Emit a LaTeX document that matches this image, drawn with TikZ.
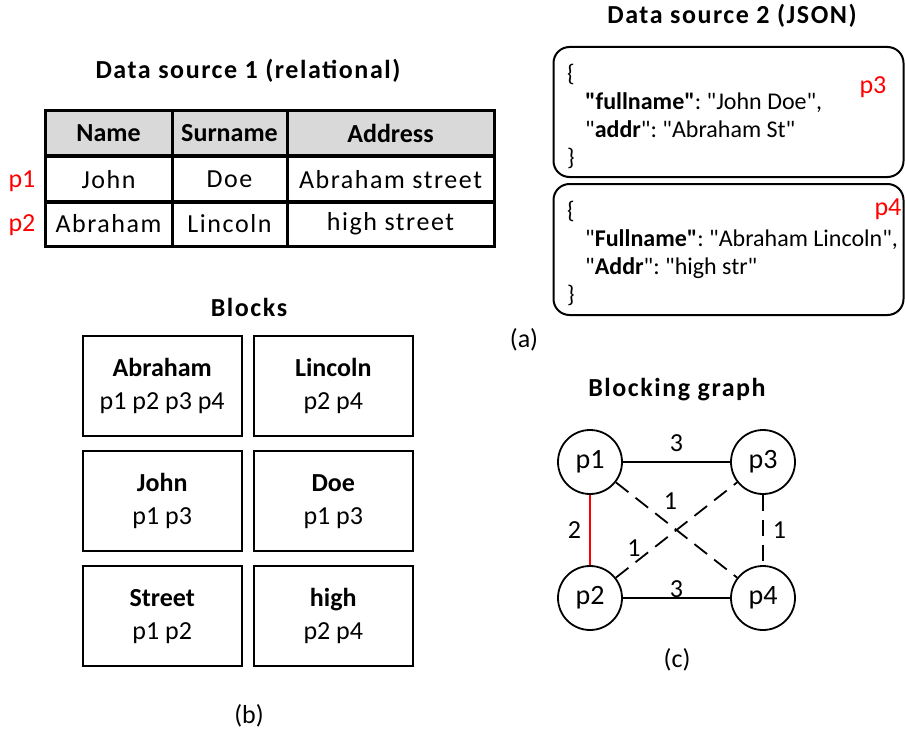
\documentclass[tikz,border=0pt]{standalone}
\usepackage{fontspec}
\setmainfont{Carlito}[Ligatures=TeXOff]
\definecolor{hdr}{HTML}{D9D9D9}
\definecolor{pred}{HTML}{FF0000}
\frenchspacing
\tikzset{
  txt/.style={font=\fontsize{26}{31}\selectfont, inner sep=0pt},
  ttl/.style={font=\fontsize{26}{31}\selectfont\bfseries\addfontfeature{LetterSpace=6}, inner sep=0pt},
  hcell/.style={draw, line width=3pt, fill=hdr, minimum width=#1, minimum height=45pt, inner sep=0pt,
    font=\fontsize{26}{31}\selectfont\bfseries},
  bcell/.style={draw, line width=3pt, minimum width=#1, minimum height=45pt, inner sep=0pt,
    font=\fontsize{26}{31}\selectfont\addfontfeature{LetterSpace=6}},
  plabel/.style={text=pred, font=\fontsize{26}{31}\selectfont, inner sep=0pt},
  blockbox/.style={draw, line width=2pt, minimum width=159pt, minimum height=100pt, inner sep=0pt,
    align=center, font=\fontsize{26}{33}\selectfont},
  jbox/.style={draw, line width=2pt, rounded corners=16pt, minimum width=350pt, minimum height=#1, inner sep=0pt},
  jtext/.style={anchor=west, align=left, inner sep=0pt, font=\fontsize{24}{27.7}\selectfont\frenchspacing},
  gnode/.style={draw, circle, line width=1.8pt, minimum size=64pt, inner sep=0pt, font=\fontsize{28}{31}\selectfont},
  gedge/.style={line width=1.8pt},
  dedge/.style={line width=1.8pt, dash pattern=on 16pt off 9pt},
  elabel/.style={font=\fontsize{26}{31}\selectfont, inner sep=0pt},
}
\begin{document}
\begin{tikzpicture}[x=1pt,y=-1pt]
\useasboundingbox (0,0) rectangle (905,733);

% ---- Data source 1 ----
\node[ttl] (t1) at (248,71) {Data source 1 (relational)};
\node[hcell=127pt] (hname) at (108.5,133.5) {Name};
\node[hcell=115pt] (hsur) at (229.5,133.5) {Surname};
\node[hcell=207pt] (haddr) at (390.5,133.5) {Address};
\node[bcell=127pt] (c11) at (108.5,179.5) {John};
\node[bcell=115pt] (c12) at (229.5,179.5) {Doe};
\node[bcell=207pt] (c13) at (390.5,179.5) {Abraham street};
\node[bcell=127pt] (c21) at (108.5,224) {Abraham};
\node[bcell=115pt] (c22) at (229.5,224) {Lincoln};
\node[bcell=207pt] (c23) at (390.5,224) {high street};
\node[plabel] (lp1) at (22,181) {p1};
\node[plabel] (lp2) at (22,225) {p2};

% ---- Data source 2 ----
\node[ttl] (t2) at (732,16) {Data source 2 (JSON)};
\node[jbox=130pt] (j1) at (728.5,112) {};
\node[jbox=131pt] (j2) at (728.5,249.5) {};
\node[jtext] (j1t) at (567,116.5) {\{\\\hspace*{18pt}\textbf{"fullname"}: "John Doe",\\\hspace*{18pt}"\textbf{addr}": "Abraham St"\\\}};
\node[jtext] (j2t) at (567,253.5) {\{\\\hspace*{18pt}"\textbf{Fullname"}: "Abraham Lincoln",\\\hspace*{18pt}"\textbf{Addr}": "high str"\\\}};
\node[plabel] (lp3) at (873,87) {p3};
\node[plabel] (lp4) at (888,209) {p4};
\node[txt] (capa) at (524,340) {(a)};

% ---- Blocks ----
\node[ttl] (t3) at (249,307) {Blocks};
\node[blockbox] (b1) at (162.2,386.3) {\textbf{Abraham}\\p1 p2 p3 p4};
\node[blockbox] (b2) at (333.3,386.3) {\textbf{Lincoln}\\p2 p4};
\node[blockbox] (b3) at (162.2,501.3) {\textbf{John}\\p1 p3};
\node[blockbox] (b4) at (333.3,501.3) {\textbf{Doe}\\p1 p3};
\node[blockbox] (b5) at (162.2,616.3) {\textbf{Street}\\p1 p2};
\node[blockbox] (b6) at (333.3,616.3) {\textbf{high}\\p2 p4};
\node[txt] (capb) at (249,716) {(b)};

% ---- Blocking graph ----
\node[ttl] (t4) at (677,390) {Blocking graph};
\node[gnode] (p1) at (590,462) {p1};
\node[gnode] (p3) at (763,462) {p3};
\node[gnode] (p2) at (590,598) {p2};
\node[gnode] (p4) at (763,598) {p4};
\draw[gedge] (p1) -- node[elabel, pos=.5, yshift=19pt] {3} (p3);
\draw[gedge] (p2) -- node[elabel, pos=.5, yshift=9pt] {3} (p4);
\draw[gedge, pred] (p1) -- node[elabel, pos=.5, left=8pt, text=black] {2} (p2);
\draw[dedge] (p3) -- node[elabel, pos=.5, right=9pt] {1} (p4);
\draw[dedge] (p1) -- node[elabel, pos=.45, yshift=24pt] {1} (p4);
\draw[dedge] (p2) -- node[elabel, pos=.15, yshift=15pt] {1} (p3);
\node[txt] (capc) at (677,660) {(c)};
\end{tikzpicture}
\end{document}
